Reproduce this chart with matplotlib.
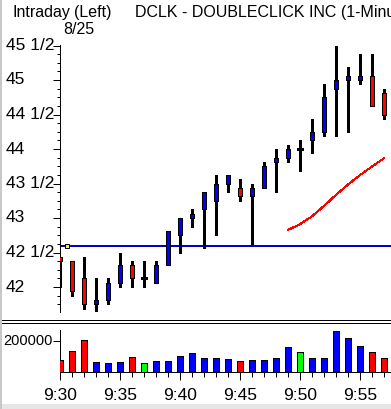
import matplotlib
matplotlib.use("Agg")
import matplotlib.pyplot as plt
import numpy as np
import pandas as pd
from matplotlib.transforms import blended_transform_factory
from matplotlib.lines import Line2D

# ---------------- data ----------------
minutes = list(range(28))  # 9:30 .. 9:57
opens = [42.4375, 42.375, 42.125, 41.75, 41.8125, 42.0625, 42.3125, 42.125, 42.0625, 42.3125,
         42.75, 43.0, 43.125, 43.25, 43.5, 43.4375, 43.3125, 43.4375, 43.8125, 43.875,
         44.0, 44.125, 44.25, 44.875, 45.0, 45.0, 45.0625, 44.8125]
highs = [42.4375, 42.375, 42.4375, 42.125, 42.125, 42.5, 42.375, 42.375, 42.375, 42.8125,
         43.0, 43.125, 43.375, 43.625, 43.625, 43.5625, 43.5, 43.8125, 44.0, 44.0625,
         44.125, 44.4375, 44.9375, 45.5, 45.1875, 45.375, 45.375, 44.875]
lows = [42.0, 41.875, 41.6875, 41.625, 41.75, 42.0, 42.0, 42.0, 42.0625, 42.3125,
        42.5, 42.875, 42.5625, 42.75, 43.375, 43.25, 42.625, 43.4375, 43.375, 43.8125,
        43.6875, 43.9375, 44.1875, 44.1875, 44.25, 44.9375, 44.625, 44.4375]
closes = [42.375, 41.9375, 41.75, 41.8125, 42.0625, 42.3125, 42.125, 42.125, 42.3125, 42.8125,
          43.0, 43.0625, 43.375, 43.5, 43.625, 43.3125, 43.4375, 43.75, 43.875, 44.0,
          44.0, 44.25, 44.75, 45.0, 45.0625, 45.0625, 44.625, 44.5]
volumes = [75500, 133500, 204500, 62500, 56000, 62500, 95000, 54000, 69000, 69000,
           101000, 120500, 88500, 88500, 82000, 69000, 75500, 75500, 88500, 159000,
           127000, 88500, 88500, 262500, 217500, 166000, 127000, 88500]
prev_close = 42.6
ma_period = 20
price_ticks = [42.0, 42.5, 43.0, 43.5, 44.0, 44.5, 45.0, 45.5]
price_tick_labels = ["42", "42 1/2", "43", "43 1/2", "44", "44 1/2", "45", "45 1/2"]
time_ticks = [0, 5, 10, 15, 20, 25]
time_tick_labels = ["9:30", "9:35", "9:40", "9:45", "9:50", "9:55"]
vol_ticks = [200000]
vol_tick_labels = ["200000"]
title_left = "Intraday"
title_date = "8/25"
title_side = "(Left)"
title_main = "DCLK - DOUBLECLICK INC (1-Minute)"

# ---------------- style ----------------
plt.rcParams['font.family'] = ['Liberation Sans']
plt.rcParams['lines.antialiased'] = False
plt.rcParams['patch.antialiased'] = False
FS = 12.5
PT = 0.72  # points per pixel at dpi 100
UP, DOWN, FLAT = '#0000FF', '#FF0000', '#00FF00'

W, H = 391, 409
fig = plt.figure(figsize=(W / 100, H / 100), dpi=100)
fig.patch.set_facecolor('white')

def fx(px):
    return px / W

def fy(py):
    return 1 - py / H

x0 = 60
xmax = (W - x0) / 12.0

# price axes
ax = fig.add_axes([fx(x0), fy(312), fx(W - x0), (312 - 45) / H])
ax.set_xlim(0, xmax)
ax.set_ylim(42 - 25 / 69, 45.5 + 0.5 / 69)
for s in ['top', 'right', 'bottom']:
    ax.spines[s].set_visible(False)
ax.spines['left'].set_linewidth(1.0 * PT)
ax.set_xticks([])
ax.set_yticks(price_ticks)
ax.set_yticklabels([])
ax.set_yticks(np.arange(41.75, 45.51, 0.125), minor=True)
ax.tick_params(axis='y', which='major', direction='out', length=7 * PT, width=1 * PT)
ax.tick_params(axis='y', which='minor', direction='out', length=3.5 * PT, width=1 * PT)

ytr = blended_transform_factory(fig.transFigure, ax.transData)
for v, lab in zip(price_ticks, price_tick_labels):
    ax.text(fx(6), v, lab, transform=ytr, ha='left', va='center', fontsize=FS, clip_on=False)

# previous close line and marker
ax.axhline(prev_close, color='#0000CC', lw=1.6 * PT, zorder=1)
ax.plot([0.6], [prev_close], marker='s', markersize=4 * PT, markerfacecolor='#FFFF00',
        markeredgecolor='black', markeredgewidth=1 * PT, zorder=5, clip_on=False)

# candles
for m, o, h, l, c in zip(minutes, opens, highs, lows, closes):
    ax.vlines(m, l, h, color='black', lw=1.3 * PT, zorder=2)
    if c == o:
        ax.hlines(c, m - 0.22, m + 0.22, color='black', lw=1.3 * PT, zorder=3)
    else:
        col = UP if c > o else DOWN
        ax.bar(m, abs(c - o), bottom=min(o, c), width=0.4, color=col,
               edgecolor='black', linewidth=1 * PT, zorder=3)

# moving average
ma = pd.Series(closes).rolling(ma_period).mean()
ax.plot(minutes, ma, color='#FF0000', lw=1.0 * PT, zorder=4)

# volume axes
vax = fig.add_axes([fx(x0), fy(371.5), fx(W - x0), (371.5 - 330) / H])
vax.set_xlim(0, xmax)
vax.set_ylim(0, 269500)
for s in ['top', 'right']:
    vax.spines[s].set_visible(False)
vax.spines['left'].set_linewidth(1.0 * PT)
vax.spines['bottom'].set_linewidth(1.0 * PT)
vcols = [UP if c > o else (DOWN if c < o else FLAT) for o, c in zip(opens, closes)]
vax.bar(minutes, volumes, width=0.58, color=vcols, edgecolor='black', linewidth=1 * PT, zorder=3)
vax.set_yticks(vol_ticks)
vax.set_yticklabels([])
vax.tick_params(axis='y', direction='out', length=7 * PT, width=1 * PT)
vtr = blended_transform_factory(fig.transFigure, vax.transData)
for v, lab in zip(vol_ticks, vol_tick_labels):
    vax.text(fx(53), v, lab, transform=vtr, ha='right', va='center', fontsize=FS - 2,
             clip_on=False)
vax.set_xticks(time_ticks)
vax.set_xticklabels(time_tick_labels, fontsize=FS)
vax.set_xticks(minutes, minor=True)
vax.tick_params(axis='x', which='major', direction='out', length=8 * PT, width=1 * PT, pad=9 * PT)
vax.tick_params(axis='x', which='minor', direction='out', length=5 * PT, width=1 * PT)

# separator double line
for py in (320, 322.5):
    fig.add_artist(Line2D([0, 1], [fy(py), fy(py)], color='black', lw=1.0 * PT,
                          transform=fig.transFigure))
# window border and bottom strip
fig.add_artist(Line2D([fx(0.7), fx(0.7)], [0, 1], color='#C8C8C8', lw=1.5 * PT,
                      transform=fig.transFigure))
fig.add_artist(plt.Rectangle((0, 0), 1, fy(405), color='#E6E6E6',
                             transform=fig.transFigure, zorder=-1))

# titles
fig.text(fx(12), fy(12), title_left, ha='left', va='center', fontsize=FS - 1)
fig.text(fx(63), fy(29), title_date, ha='left', va='center', fontsize=FS - 1)
fig.text(fx(74), fy(12), title_side, ha='left', va='center', fontsize=FS - 1)
fig.text(fx(135), fy(12), title_main, ha='left', va='center', fontsize=FS - 1)

fig.savefig('out.png', dpi=100, facecolor='white')
